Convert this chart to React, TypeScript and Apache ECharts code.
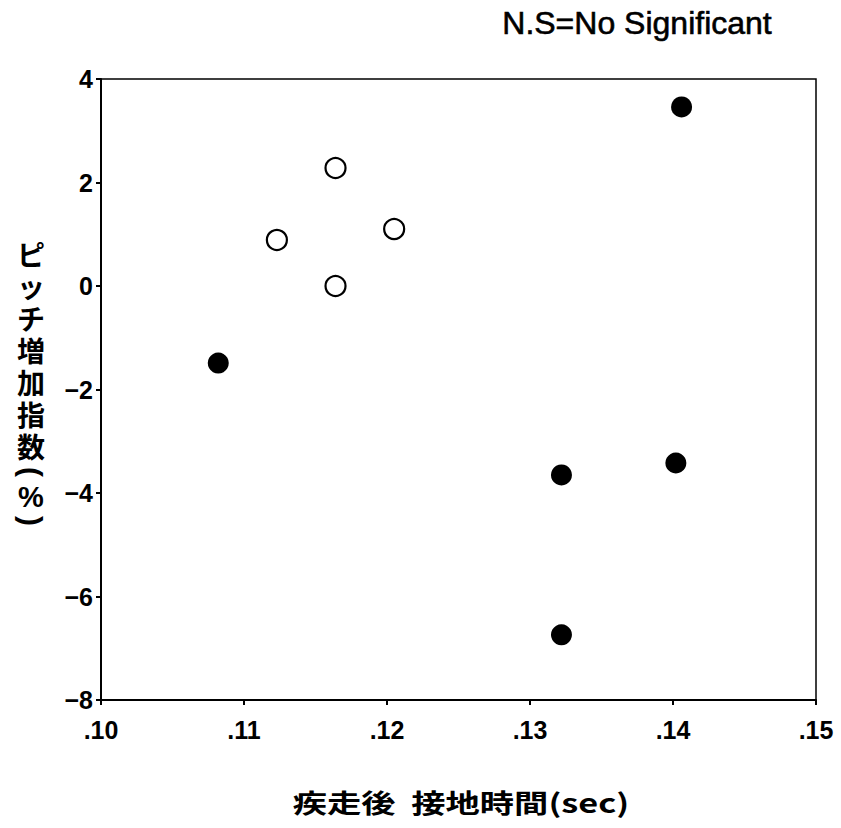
import React, { useEffect, useRef } from "react";
import * as echarts from "echarts";

// Ground-contact time after sprint (sec) vs pitch increase index (%)
const filledX = [0.1082, 0.1406, 0.1322, 0.1402, 0.1322];
const filledY = [-1.49, 3.46, -3.65, -3.42, -6.74];
const openX = [0.1164, 0.1123, 0.1164, 0.1205];
const openY = [2.28, 0.89, 0.0, 1.1];

const xTicks = [0.1, 0.11, 0.12, 0.13, 0.14, 0.15];
const yTicks = [-8, -6, -4, -2, 0, 2, 4];

const noteText = "N.S=No Significant";
const xAxisTitle = "疾走後  接地時間(sec)";
// vertical axis title: the word stacked one glyph per row, then the unit
// with its brackets turned a quarter turn
const yAxisTitleWord = ["ピ", "ッ", "チ", "増", "加", "指", "数"];
const yAxisTitleUnit = ["(", "%", ")"];
const yAxisUnitRows = [472, 497, 521];

const numFont = "'Liberation Sans', Arial, sans-serif";
const cjkFont = "'Noto Sans CJK JP', 'Liberation Sans', sans-serif";

export default function App() {
  const ref = useRef<HTMLDivElement>(null);

  useEffect(() => {
    if (!ref.current) return;
    const chart = echarts.init(ref.current, undefined, { renderer: "svg" });

    const pair = (xs: number[], ys: number[]) => xs.map((x, i) => [x, ys[i]]);

    const axisLabelStyle = {
      color: "#000",
      fontFamily: numFont,
      fontWeight: "bold",
      fontSize: 25,
    };

    chart.setOption({
      animation: false,
      backgroundColor: "#ffffff",
      grid: {
        left: 101,
        right: 25,
        top: 79,
        bottom: 128,
        show: true,
        borderColor: "#000",
        borderWidth: 1.5,
        backgroundColor: "transparent",
      },
      xAxis: {
        type: "value",
        min: xTicks[0],
        max: xTicks[xTicks.length - 1],
        interval: 0.01,
        axisLine: { show: true, onZero: false, lineStyle: { color: "#000", width: 2 } },
        axisTick: { show: true, inside: false, length: 5, lineStyle: { color: "#000", width: 2 } },
        splitLine: { show: false },
        axisLabel: {
          ...axisLabelStyle,
          margin: 17,
          formatter: (v: number) => v.toFixed(2).replace(/^0/, ""),
        },
      },
      yAxis: {
        type: "value",
        min: yTicks[0],
        max: yTicks[yTicks.length - 1],
        interval: 2,
        axisLine: { show: true, onZero: false, lineStyle: { color: "#000", width: 2 } },
        axisTick: { show: true, inside: false, length: 5, lineStyle: { color: "#000", width: 2 } },
        splitLine: { show: false },
        axisLabel: {
          ...axisLabelStyle,
          margin: 8,
          formatter: (v: number) => (v < 0 ? "\u2212" + Math.abs(v) : String(v)),
        },
      },
      series: [
        {
          name: "open",
          type: "scatter",
          data: pair(openX, openY),
          symbol: "circle",
          symbolSize: 20,
          itemStyle: { color: "#fff", borderColor: "#000", borderWidth: 2.2, opacity: 1 },
        },
        {
          name: "filled",
          type: "scatter",
          data: pair(filledX, filledY),
          symbol: "circle",
          symbolSize: 21,
          itemStyle: { color: "#000", borderColor: "#000", borderWidth: 0, opacity: 1 },
        },
      ],
      graphic: [
        {
          type: "text",
          x: 637,
          y: 23,
          style: {
            text: noteText,
            fontFamily: numFont,
            fontSize: 32,
            fill: "#000",
            stroke: "#000",
            lineWidth: 0.6,
            align: "center",
            verticalAlign: "middle",
          },
        },
        {
          type: "text",
          x: 461,
          y: 802,
          scaleX: 1.32,
          style: {
            text: xAxisTitle,
            fontFamily: cjkFont,
            fontSize: 26,
            fontWeight: "bold",
            fill: "#000",
            align: "center",
            verticalAlign: "middle",
          },
        },
        {
          type: "text",
          x: 31,
          y: 350,
          style: {
            text: yAxisTitleWord.join("\n"),
            fontFamily: cjkFont,
            fontSize: 28,
            lineHeight: 32,
            fontWeight: "bold",
            fill: "#000",
            align: "center",
            verticalAlign: "middle",
          },
        },
        ...yAxisTitleUnit.map((ch, i) => {
          const bracket = ch !== "%";
          return {
            type: "text",
            x: 31,
            y: yAxisUnitRows[i],
            rotation: bracket ? -Math.PI / 2 : 0,
            style: {
              text: ch,
              fontFamily: numFont,
              fontSize: bracket ? 30 : 29,
              fontWeight: "bold",
              fill: "#000",
              align: "center",
              verticalAlign: "middle",
            },
          };
        }),
      ],
    });

    return () => chart.dispose();
  }, []);

  return (
    <div
      ref={ref}
      style={{ position: "absolute", left: 0, top: 0, width: 841, height: 828 }}
    />
  );
}
